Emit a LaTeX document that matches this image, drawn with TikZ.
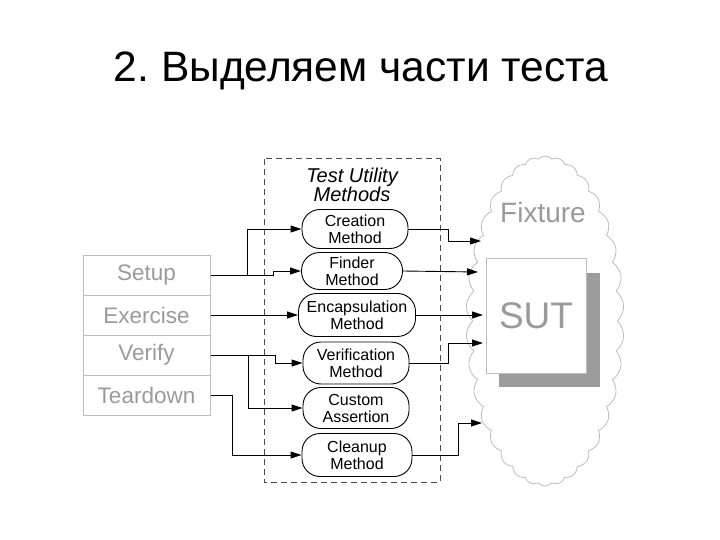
\documentclass[tikz,border=0pt]{standalone}
\usepackage{fontspec}
\setmainfont{Liberation Sans}
\usetikzlibrary{shapes,shapes.symbols,arrows.meta,positioning,calc}
\definecolor{phasegray}{HTML}{9A9A9A}
\definecolor{framegray}{HTML}{BDBDBD}
\definecolor{shadowgray}{HTML}{9C9C9C}
\frenchspacing

\begin{document}
\begin{tikzpicture}[
    x=1pt, y=-1pt,
    phase/.style={rectangle, draw=framegray, line width=1pt, minimum width=127pt, minimum height=40pt,
        text=phasegray, font=\fontsize{22.5}{24}\selectfont},
    method/.style={rectangle, draw, rounded corners=18pt, line width=0.9pt, minimum width=106pt,
        minimum height=39pt, inner sep=1pt, align=center, font=\fontsize{16}{17}\selectfont},
    conn/.style={line width=0.9pt, -{Triangle[length=11pt,width=7pt]}}
]
    \useasboundingbox (0,0) rectangle (720,540);

    % Title
    \node[anchor=base, font=\fontsize{42.5}{48}\selectfont] (title) at (361,82) {2. Выделяем части теста};

    % Phases
    \node[phase] (setup) at (146.5,275) {Setup};
    \node[phase] (exercise) at (146.5,315) {Exercise};
    \node[phase] (verify) at (146.5,355) {Verify};
    \node[phase] (teardown) at (146.5,395) {Teardown};

    % Test utility methods
    \draw[dashed, dash pattern=on 6pt off 4pt, line width=1pt, draw=black!70] (264,159) rectangle (440,482);
    \node[align=center, font=\itshape\fontsize{20}{19}\selectfont] (tum) at (352,185) {Test Utility\\Methods};
    \node[method] (cre) at (355,229) {Creation\\Method};
    \node[method, minimum width=101pt, minimum height=37pt] (fin) at (352,271) {Finder\\Method};
    \node[method, minimum width=117pt, minimum height=43pt] (enc) at (357,315) {Encapsulation\\Method};
    \node[method, minimum height=42pt] (ver) at (356,363) {Verification\\Method};
    \node[method, minimum height=41pt] (cus) at (356,408) {Custom\\Assertion};
    \node[method, minimum width=110pt, minimum height=43pt] (cle) at (357,455) {Cleanup\\Method};

    % Fixture
    \node[cloud, cloud puffs=34, cloud puff arc=100, aspect=0.48, draw=framegray, line width=0.8pt,
        fill=white, minimum width=158pt, minimum height=330pt] (fixture) at (545,321) {};
    \node[text=phasegray, font=\fontsize{28}{30}\selectfont] (fixlabel) at (543,212) {Fixture};
    \fill[shadowgray] (499,273) rectangle (600,387);
    \node[rectangle, draw=framegray, line width=1pt, fill=white, minimum width=100pt, minimum height=115pt,
        text=phasegray, font=\fontsize{37}{40}\selectfont] (sut) at (536,315.5) {SUT};

    % Entry points on the fixture
    \coordinate (in1) at (481,241);
    \coordinate (in2) at (478,272);
    \coordinate (in3) at (483,315);
    \coordinate (in4) at (483,343);
    \coordinate (in5) at (482,423);

    % Phases to methods
    \coordinate (sj) at (247,275);
    \draw[conn] (setup.east) -- (sj) |- (cre.west);
    \draw[conn] (sj) -- (273,275) |- (fin.west);
    \draw[conn] (exercise.east) -- (enc.west);
    \coordinate (vj) at (248,355);
    \draw[conn] (verify.east) -- (275,355) |- (ver.west);
    \draw[conn] (vj) |- (cus.west);
    \draw[conn] (teardown.east) -- (232,395) |- (cle.west);

    % Methods to fixture
    \draw[conn] (cre.east) -- (448,229) |- (in1);
    \draw[conn] (fin.east) -- (in2);
    \draw[conn] (enc.east) -- (in3);
    \draw[conn] (ver.east) -- (448,363) |- (in4);
    \draw[conn] (cle.east) -- (458,455) |- (in5);
\end{tikzpicture}
\end{document}
